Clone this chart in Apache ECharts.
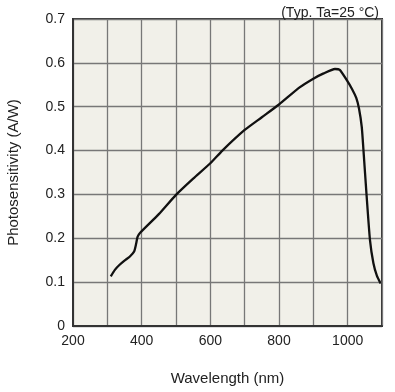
<!DOCTYPE html>
<html>
<head>
<meta charset="utf-8">
<script src="https://cdn.jsdelivr.net/npm/echarts@6/dist/echarts.min.js"></script>
<style>html,body{margin:0;padding:0;background:#fff;}#c{width:395px;height:392px;}</style>
</head>
<body>
<div id="c"></div>
<script>
var wavelength = [310, 322, 335, 350, 365, 378, 384, 388, 395, 450, 500, 550, 600, 635, 700, 750, 800, 860, 900, 930, 963, 977, 997, 1013, 1025, 1033, 1041, 1046, 1055, 1065, 1075, 1085, 1096];
var sensitivity = [0.113, 0.128, 0.139, 0.149, 0.158, 0.170, 0.188, 0.203, 0.212, 0.255, 0.299, 0.336, 0.371, 0.400, 0.447, 0.476, 0.505, 0.544, 0.564, 0.576, 0.586, 0.584, 0.561, 0.540, 0.520, 0.496, 0.454, 0.401, 0.299, 0.196, 0.143, 0.115, 0.097];
var xTickLabels = [200, 400, 600, 800, 1000];
var yTickLabels = ['0', '0.1', '0.2', '0.3', '0.4', '0.5', '0.6', '0.7'];
var xName = 'Wavelength (nm)';
var yName = 'Photosensitivity (A/W)';
var note = '(Typ. Ta=25 °C)';

var tickFont = '"Liberation Sans", Arial, sans-serif';
var nameFont = '"Liberation Sans", Arial, sans-serif';

var chart = echarts.init(document.getElementById('c'), null, {renderer: 'canvas'});
chart.setOption({
  animation: false,
  title: {
    text: note, right: 11, top: 1,
    textStyle: {fontFamily: tickFont, fontSize: 14, fontWeight: 'normal', color: '#222'}
  },
  grid: {
    left: 73, right: 13, top: 19, bottom: 66,
    outerBoundsMode: 'none', containLabel: false,
    show: true, backgroundColor: '#f1f0e9', borderColor: '#333', borderWidth: 2
  },
  xAxis: {
    type: 'value', min: 200, max: 1100, interval: 100,
    name: xName, nameLocation: 'middle', nameGap: 45,
    nameTextStyle: {fontFamily: nameFont, fontSize: 15, color: '#222'},
    axisLine: {show: true, lineStyle: {color: '#333', width: 2}},
    axisTick: {show: false},
    splitLine: {show: true, lineStyle: {color: '#777', width: 1.3}},
    axisLabel: {
      margin: 8, fontFamily: tickFont, fontSize: 14, color: '#222',
      formatter: function (v) { return xTickLabels.indexOf(v) >= 0 ? String(v) : ''; }
    }
  },
  yAxis: {
    type: 'value', min: 0, max: 0.7, interval: 0.1,
    name: yName, nameLocation: 'middle', nameGap: 52, nameRotate: 90,
    nameTextStyle: {fontFamily: nameFont, fontSize: 15, color: '#222'},
    axisLine: {show: true, lineStyle: {color: '#333', width: 2}},
    axisTick: {show: false},
    splitLine: {show: true, lineStyle: {color: '#777', width: 1.3}},
    axisLabel: {
      margin: 8, fontFamily: tickFont, fontSize: 14, color: '#222',
      formatter: function (v) { return yTickLabels[Math.round(v * 10)]; }
    }
  },
  series: [{
    type: 'line',
    data: wavelength.map(function (w, i) { return [w, sensitivity[i]]; }),
    smooth: 0.2,
    showSymbol: false,
    lineStyle: {color: '#111', width: 2.3}
  }]
});
</script>
</body>
</html>
